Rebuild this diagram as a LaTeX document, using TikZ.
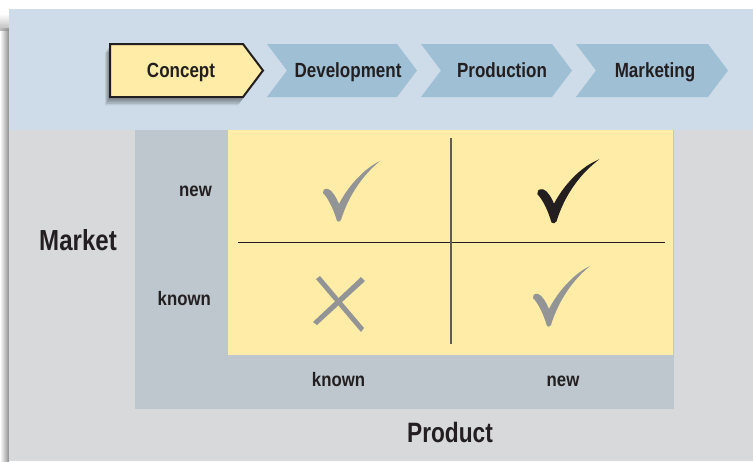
\documentclass[tikz,border=0pt]{standalone}
\usepackage{fontspec}
\setmainfont{Liberation Sans}
\usetikzlibrary{calc}

\definecolor{bandblue}{HTML}{CDDCE8}
\definecolor{chevblue}{HTML}{9FBFD5}
\definecolor{bggray}{HTML}{D8D9DB}
\definecolor{panelgray}{HTML}{BEC7CD}
\definecolor{paleyellow}{HTML}{FFECA6}
\definecolor{markgray}{HTML}{939496}
\definecolor{inkblack}{HTML}{231F20}
\definecolor{gridline}{HTML}{5F5C50}

% condensed bold lettering
\newcommand{\cnd}[2][0.83]{\scalebox{#1}[1]{\bfseries #2}}

\tikzset{
  chevron/.style={fill=chevblue},
  stagetext/.style={anchor=base, text=inkblack, inner sep=0pt, font=\fontsize{20.5}{24}\selectfont},
  axislabel/.style={anchor=base, text=inkblack, inner sep=0pt, font=\fontsize{19.5}{23}\selectfont},
  axistitle/.style={anchor=base, text=inkblack, inner sep=0pt, font=\fontsize{29}{34}\selectfont},
  checkmark/.pic={
    \fill[pic actions] (0,0)
      .. controls (-3,-10) and (-8,-22) .. (-14,-28)
      .. controls (-15,-30) and (-13,-33) .. (-9,-32)
      .. controls (-5,-31) and (-1,-24) .. (2,-17)
      .. controls (10,-33) and (26,-52) .. (43,-60)
      .. controls (27,-47) and (12,-27) .. (4,-1)
      .. controls (3,1) and (1,1) .. (0,0) -- cycle;
  }
}

\begin{document}
\begin{tikzpicture}[x=1pt, y=-1pt]
\useasboundingbox (0,0) rectangle (753,461);
\fill[white] (0,0) rectangle (753,461);

% soft shadow along the left edge of the panel
\shade[left color=white, right color=black!45] (0,28) rectangle (9,461);
\shade[top color=white, bottom color=black!45, opacity=0.6] (0,14) rectangle (9,30);

% backgrounds
\fill[bandblue] (9,9) rectangle (753,130);
\fill[bggray] (9,130) rectangle (753,461);
\fill[panelgray] (135,130) rectangle (674,409);
\fill[paleyellow] (228,130) rectangle (673,355);

% process stages
\foreach \i/\op in {1/0.10,2/0.10,3/0.10,4/0.08}
  \fill[black, opacity=\op] ($(110,44)+(-1-\i,2+\i*1.6)$) -- ++(133,0) -- ++(20,26.5) -- ++(-20,26.5) -- ++(-133,0) -- cycle;
\draw[fill=paleyellow, draw=inkblack, line width=2pt, line join=miter]
  (110,44) -- (243,44) -- (263,70.5) -- (243,97) -- (110,97) -- cycle;
\fill[chevron] (267,44) -- (397,44) -- (417,70.5) -- (397,97) -- (267,97) -- (287,70.5) -- cycle;
\fill[chevron] (421,44) -- (552,44) -- (572,70.5) -- (552,97) -- (421,97) -- (441,70.5) -- cycle;
\fill[chevron] (576,44) -- (708,44) -- (728,70.5) -- (708,97) -- (576,97) -- (596,70.5) -- cycle;

\node[stagetext] (concept) at (181,77) {\cnd{Concept}};
\node[stagetext] (development) at (348,77) {\cnd{Development}};
\node[stagetext] (production) at (502,77) {\cnd{Production}};
\node[stagetext] (marketing) at (655,77) {\cnd{Marketing}};

% matrix grid
\coordinate (hl) at (238,242);
\coordinate (hr) at (665,242);
\coordinate (vt) at (451,138);
\coordinate (vb) at (451,344);
\draw[inkblack, line width=0.9pt] (hl) -- (hr);
\draw[gridline, line width=1.4pt] (vt) -- (vb);

% marks in the cells
\pic[fill=markgray] at (337,221) {checkmark};
\pic[fill=inkblack, draw=inkblack, line width=1.2pt] at (552,222) {checkmark};
\pic[fill=markgray] at (547,326) {checkmark};
\fill[markgray] (316,279) -- (320,276) -- (364,328) -- (361,332) -- cycle;
\fill[markgray] (361,277) -- (365,281) -- (317,325) -- (313,322) -- cycle;

% axis labels
\node[axislabel, anchor=base east] (mnew) at (212,196) {\cnd[0.86]{new}};
\node[axislabel, anchor=base east] (mknown) at (211,305) {\cnd[0.86]{known}};
\node[axistitle, anchor=base east] (market) at (117,250) {\cnd[0.83]{Market}};
\node[axislabel] (pknown) at (338.5,386) {\cnd[0.86]{known}};
\node[axislabel] (pnew) at (563,386) {\cnd[0.86]{new}};
\node[axistitle, font=\fontsize{28}{33}\selectfont] (product) at (450,442) {\cnd[0.81]{Product}};
\end{tikzpicture}
\end{document}
